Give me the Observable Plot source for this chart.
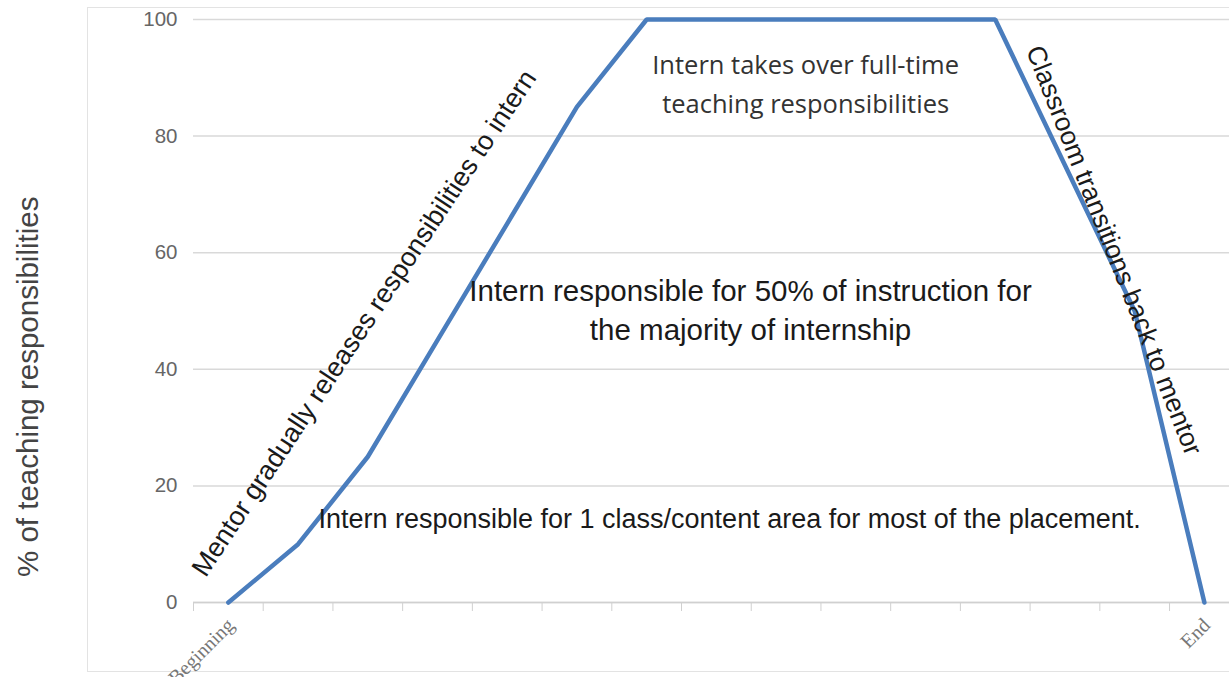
<!DOCTYPE html>
<html>
<head>
<meta charset="utf-8">
<script src="https://cdn.jsdelivr.net/npm/d3@7"></script>
<script src="https://cdn.jsdelivr.net/npm/@observablehq/plot@0.6"></script>
<style>
  html, body { margin: 0; padding: 0; background: #fff; overflow: hidden; }
  #wrap { position: relative; width: 1229px; height: 677px; }
  #border { position: absolute; left: 87px; top: 7px; width: 1200px; height: 665px; border: 1px solid #e3e3e3; box-sizing: border-box; }
  #chart { position: absolute; left: 0; top: 0; }
</style>
</head>
<body>
<div id="wrap"><div id="border"></div><div id="chart"></div></div>
<script>
// Stages of the internship (category index) and their labels
const stages = [0, 1, 2, 3, 4, 5, 6, 7, 8, 9, 10, 11, 12, 13, 14];
const stageLabels = ["Beginning", "", "", "", "", "", "", "", "", "", "", "", "", "", "End"];
// % of teaching responsibilities held by the intern
const responsibility = [0, 10, 25, 45, 65, 85, 100, 100, 100, 100, 100, 100, 75, 50, 0];
const yTicks = [0, 20, 40, 60, 80, 100];

// Annotation texts with their anchor in data space (stage, %)
const noteTexts = [
  "Intern takes over full-time\nteaching responsibilities",
  "Intern responsible for 50% of instruction for\nthe majority of internship",
  "Intern responsible for 1 class/content area for most of the placement.",
  "Mentor gradually releases responsibilities to intern",
  "Classroom transitions back to mentor"
];
const noteStage = [8.28, 7.49, 7.19, 1.95, 12.7];
const notePct = [89.4, 50.5, 14.2, 47.9, 60.4];
const yTitle = "% of teaching responsibilities";

const series = stages.map((s, i) => ({stage: s, pct: responsibility[i], label: stageLabels[i]}));
const notes = noteTexts.map((t, i) => ({text: t, stage: noteStage[i], pct: notePct[i]}));
const boundaries = stages.map(s => s - 0.5);

const plot = Plot.plot({
  width: 1229,
  height: 677,
  marginLeft: 193,
  marginRight: 0,
  marginTop: 19,
  marginBottom: 75,
  x: {domain: [-0.5, 14.36]},
  y: {domain: [0, 100]},
  style: {background: "transparent"},
  marks: [
    Plot.gridY(yTicks, {stroke: "#d9d9d9", strokeOpacity: 1, strokeWidth: 1.5}),
    Plot.axisY(yTicks, {tickSize: 0, tickPadding: 16, fontSize: 20.5, fill: "#666", fontFamily: "Liberation Sans, Arial, sans-serif", label: null}),
    Plot.ruleY([0], {stroke: "#d0d0d0", strokeWidth: 1.5}),
    Plot.axisX(boundaries, {tickSize: 9, stroke: "#d0d0d0", tickFormat: () => "", label: null}),
    Plot.text(series, {x: "stage", text: "label", frameAnchor: "bottom",
      rotate: -45, textAnchor: "end", dx: 7, dy: 24, fontSize: 20, fill: "#777",
      fontFamily: "Liberation Serif, Times New Roman, serif"}),
    Plot.line(series, {x: "stage", y: "pct", stroke: "#4a7dbd", strokeWidth: 4.5, strokeLinejoin: "miter"}),
    Plot.text([notes[0]], {x: "stage", y: "pct", text: "text", fontSize: 25.5, lineHeight: 1.5,
      fill: "#333", fontFamily: "Open Sans, sans-serif"}),
    Plot.text([notes[1]], {x: "stage", y: "pct", text: "text", fontSize: 29.5, lineHeight: 1.32,
      fill: "#1a1a1a", fontFamily: "Liberation Sans, Arial, sans-serif"}),
    Plot.text([notes[2]], {x: "stage", y: "pct", text: "text", fontSize: 27,
      fill: "#1a1a1a", fontFamily: "Liberation Sans, Arial, sans-serif"}),
    Plot.text([notes[3]], {x: "stage", y: "pct", text: "text", fontSize: 27, rotate: -56.5,
      fill: "#1a1a1a", fontFamily: "Liberation Sans, Arial, sans-serif"}),
    Plot.text([notes[4]], {x: "stage", y: "pct", text: "text", fontSize: 26.5, rotate: 68.5,
      fill: "#1a1a1a", fontFamily: "Liberation Sans, Arial, sans-serif"}),
    Plot.text([yTitle], {y: 37, frameAnchor: "left", textAnchor: "middle", dx: -165, rotate: -90, fontSize: 29.5,
      fill: "#444", fontFamily: "Liberation Sans, Arial, sans-serif"})
  ]
});
document.getElementById("chart").appendChild(plot);
</script>
</body>
</html>
